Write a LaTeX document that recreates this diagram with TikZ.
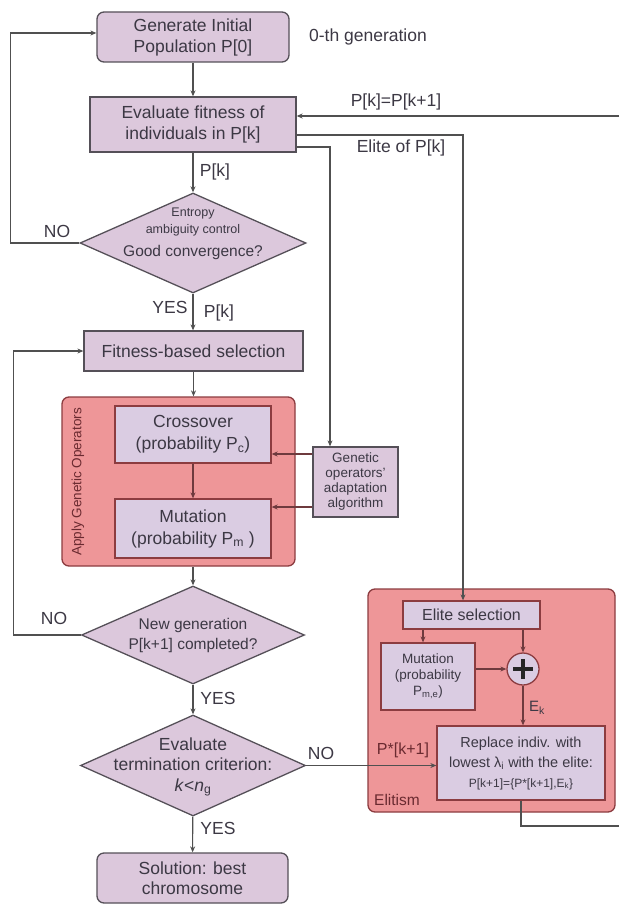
\documentclass[tikz,border=0pt]{standalone}
\usepackage{fontspec}
\setmainfont{Liberation Sans}
\usetikzlibrary{shapes.geometric,arrows.meta,calc}
\definecolor{lav}{HTML}{DCC8DC}
\definecolor{lavtwo}{HTML}{DACCE2}
\definecolor{bgray}{HTML}{555058}
\definecolor{lgray}{HTML}{505050}
\definecolor{txt}{HTML}{3C3844}
\definecolor{redfill}{HTML}{EE9698}
\definecolor{rborder}{HTML}{8C3C40}
\definecolor{rline}{HTML}{6E3A3E}
\definecolor{rtxt}{HTML}{6A2A30}
\tikzset{
  big/.style={font=\fontsize{17.5}{21}\selectfont},
  pbox/.style={draw=bgray, fill=lav, line width=1.3pt, align=center, inner sep=0pt, text=txt, big},
  rbox/.style={draw=rborder, fill=lavtwo, line width=1.3pt, align=center, inner sep=0pt, text=txt},
  dia/.style={diamond, draw=bgray, fill=lav, line width=1.3pt, inner sep=0pt},
  grp/.style={draw=rborder, fill=redfill, line width=1.3pt, rounded corners=7pt, inner sep=0pt},
  conn/.style={draw=lgray, line width=1.1pt, -{Stealth[length=6pt,width=5pt]}},
  rconn/.style={draw=rline, line width=1.1pt, -{Stealth[length=6pt,width=5pt]}},
  plain/.style={draw=lgray, line width=1.1pt},
  lbl/.style={text=txt, inner sep=0pt, align=center, big},
  rlbl/.style={text=rtxt, inner sep=0pt},
}
\begin{document}
\begin{tikzpicture}[x=1pt,y=-1pt]
\useasboundingbox (0,0) rectangle (619,904);
% groups
\node[grp, minimum width=233pt, minimum height=169pt] (gops) at (178.5,481.5) {};
\node[grp, minimum width=247pt, minimum height=223pt] (elit) at (491.5,700.5) {};
% main boxes
\node[pbox, rounded corners=7pt, minimum width=192pt, minimum height=50pt] (gen) at (193,37) {Generate Initial\\Population P[0]};
\node[pbox, minimum width=206pt, minimum height=55pt] (eval) at (193,124.5) {Evaluate fitness of\\individuals in P[k]};
\node[dia, minimum width=226pt, minimum height=100pt] (d1) at (193,243) {};
\node[lbl, font=\fontsize{12.5}{17}\selectfont] (d1a) at (193,222) {Entropy\\ambiguity control};
\node[lbl, font=\fontsize{15.5}{18}\selectfont] (d1b) at (193,252) {Good convergence?};
\node[pbox, minimum width=219pt, minimum height=40pt] (fit) at (193.5,351) {Fitness-based selection};
\node[rbox, big, font=\fontsize{17.5}{22}\selectfont, minimum width=156pt, minimum height=57pt] (cross) at (193,434.5) {Crossover\\(probability P\textsubscript{c})};
\node[rbox, big, font=\fontsize{17.5}{22}\selectfont, minimum width=156pt, minimum height=59pt] (mut) at (193,528.5) {Mutation\\(probability P\textsubscript{m} )};
\node[pbox, font=\fontsize{13.5}{15}\selectfont, minimum width=85pt, minimum height=70pt] (gop) at (355.5,482) {Genetic\\operators'\\adaptation\\algorithm};
\node[rlbl, rotate=90, font=\fontsize{13.5}{15}\selectfont] (apply) at (78,482) {Apply Genetic Operators};
\node[dia, minimum width=223pt, minimum height=98pt] (d2) at (193,635) {};
\node[lbl, font=\fontsize{15.5}{20}\selectfont] (d2t) at (193,635) {New generation\\P[k+1] completed?};
\node[dia, minimum width=225pt, minimum height=101pt] (d3) at (193,765.5) {};
\node[lbl, font=\fontsize{17.5}{20.5}\selectfont] (d3t) at (193,767) {Evaluate\\termination criterion:\\\textit{k}<\textit{n}\textsubscript{g}};
\node[pbox, rounded corners=7pt, font=\fontsize{17.5}{20}\selectfont, minimum width=191pt, minimum height=50pt] (sol) at (192.5,878) {Solution: best\\chromosome};
% elitism
\node[rbox, font=\fontsize{16}{18}\selectfont, minimum width=137pt, minimum height=28pt] (esel) at (471.5,615) {Elite selection};
\node[rbox, font=\fontsize{13.5}{16}\selectfont, minimum width=94pt, minimum height=67pt] (mute) at (428,676.5) {Mutation\\(probability\\P\textsubscript{m,e})};
\node[circle, draw=rborder, fill=lavtwo, line width=1.3pt, minimum size=32pt, inner sep=0pt] (plus) at (523,669) {};
\draw[line width=3.6pt, black!85] ([xshift=-10pt]plus.center) -- ([xshift=10pt]plus.center);
\draw[line width=3.6pt, black!85] ([yshift=-10pt]plus.center) -- ([yshift=10pt]plus.center);
\node[rbox, font=\fontsize{14.5}{20}\selectfont, minimum width=168pt, minimum height=74pt] (repl) at (521,763) {Replace indiv. with\\lowest λ\textsubscript{i} with the elite:\\{\fontsize{12}{14}\selectfont P[k+1]=\{P*[k+1],E\textsubscript{k}\}}};
% connectors
\draw[conn] (gen) -- (eval);
\draw[conn] (eval) -- (d1);
\draw[conn] (d1.west) -- ++(-69,0) |- ([yshift=4pt]gen.west);
\draw[conn] (d1.south) -- (d1.south |- fit.north);
\draw[conn] (fit.south) -- (fit.south |- gops.north);
\draw[rconn] (cross) -- (mut);
\draw[conn] (d2.north |- gops.south) -- (d2.north);
\draw[conn] (d2.west) -- ++(-67,0) |- (fit.west);
\draw[conn] (d2) -- (d3);
\draw[conn] (d3) -- (sol);
\draw[conn] (d3.east) -- (repl.west |- d3.east);
\draw[conn] ([yshift=-22.5pt]eval.east) -| ([xshift=-25.5pt]gop.north);
\draw[conn] ([yshift=-10.5pt]eval.east) -| ([xshift=-8.5pt]esel.north);
\coordinate (rtop) at (619,116);
\coordinate (rbot) at (619,826);
\draw[conn] (rtop) -- (eval.east |- rtop);
\draw[plain] (repl.south) |- (rbot);
\coordinate (g1) at ([yshift=28pt]gop.west);
\coordinate (g2) at ([yshift=-25pt]gop.west);
\draw[rconn] (g1) -- (g1 -| cross.east);
\draw[rconn] (g2) -- (g2 -| mut.east);
\coordinate (e1) at ([xshift=-48.5pt]esel.south);
\draw[rconn] (e1) -- (e1 |- mute.north);
\draw[rconn] (esel.south -| plus.north) -- (plus.north);
\draw[rconn] (mute.east |- plus.west) -- (plus.west);
\draw[rconn] (plus.south) -- (plus.south |- repl.north);
% labels
\node[lbl] (l0) at (368,37) {0-th generation};
\node[lbl] (l1) at (396,102) {P[k]=P[k+1]};
\node[lbl] (l2) at (401,148) {Elite of P[k]};
\node[lbl] (l3) at (215,172) {P[k]};
\node[lbl] (l4) at (57,231) {NO};
\node[lbl] (l5) at (170,307) {YES};
\node[lbl] (l6) at (219,313) {P[k]};
\node[lbl] (l7) at (54,618) {NO};
\node[lbl] (l8) at (218,698) {YES};
\node[lbl] (l9) at (321,753) {NO};
\node[lbl] (l10) at (218,828) {YES};
\node[rlbl, font=\fontsize{16}{18}\selectfont] (l11) at (403,750) {P*[k+1]};
\node[rlbl, font=\fontsize{15.5}{18}\selectfont] (l12) at (397,800) {Elitism};
\node[lbl, font=\fontsize{15}{18}\selectfont] (l13) at (537,708) {E\textsubscript{k}};
\end{tikzpicture}
\end{document}
